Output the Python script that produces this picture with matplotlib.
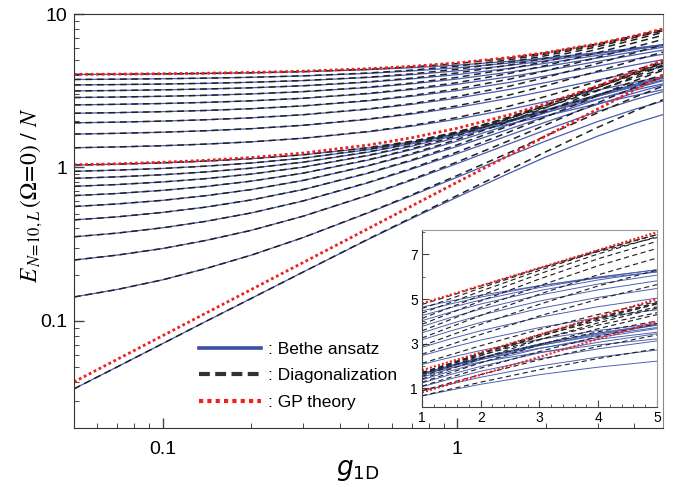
import numpy as np
import matplotlib.pyplot as plt
from matplotlib.lines import Line2D
from matplotlib.ticker import FixedLocator, FixedFormatter, NullFormatter, LogLocator, MultipleLocator

plt.rcParams['font.family'] = ['Liberation Sans', 'DejaVu Sans']
plt.rcParams['mathtext.fontset'] = 'stix'

# coupling strengths where the spectra are sampled
g1d = [0.05, 0.07, 0.1, 0.14, 0.2, 0.3, 0.5, 0.7, 1, 1.5, 2, 3, 4, 5]

# Bethe ansatz energies per particle, L = 0..10
bethe_low = [
    [0.036, 0.050, 0.071, 0.099, 0.140, 0.208, 0.340, 0.464, 0.640, 0.915, 1.170, 1.600, 1.940, 2.210],
    [0.143, 0.160, 0.185, 0.219, 0.268, 0.349, 0.506, 0.654, 0.863, 1.188, 1.487, 1.991, 2.390, 2.709],
    [0.249, 0.268, 0.296, 0.334, 0.389, 0.481, 0.658, 0.824, 1.059, 1.423, 1.756, 2.317, 2.762, 3.119],
    [0.353, 0.373, 0.404, 0.445, 0.505, 0.604, 0.795, 0.974, 1.228, 1.620, 1.976, 2.578, 3.057, 3.440],
    [0.455, 0.476, 0.509, 0.551, 0.614, 0.717, 0.917, 1.105, 1.369, 1.777, 2.148, 2.775, 3.274, 3.673],
    [0.556, 0.578, 0.610, 0.654, 0.717, 0.822, 1.024, 1.215, 1.483, 1.897, 2.273, 2.908, 3.413, 3.818],
    [0.655, 0.676, 0.709, 0.751, 0.814, 0.917, 1.117, 1.305, 1.569, 1.977, 2.348, 2.975, 3.474, 3.873],
    [0.753, 0.773, 0.804, 0.845, 0.905, 1.004, 1.195, 1.374, 1.628, 2.020, 2.376, 2.978, 3.457, 3.840],
    [0.849, 0.868, 0.896, 0.934, 0.989, 1.081, 1.258, 1.424, 1.659, 2.023, 2.356, 2.917, 3.362, 3.719],
    [0.943, 0.960, 0.985, 1.019, 1.068, 1.149, 1.306, 1.454, 1.663, 1.988, 2.287, 2.791, 3.190, 3.509],
    [1.036, 1.050, 1.071, 1.099, 1.140, 1.208, 1.340, 1.464, 1.640, 1.915, 2.170, 2.600, 2.940, 3.210],
]
# Bethe ansatz, L = 11..20
bethe_high = [
    [1.343, 1.360, 1.385, 1.419, 1.468, 1.549, 1.706, 1.854, 2.063, 2.388, 2.687, 3.191, 3.590, 3.909],
    [1.649, 1.668, 1.696, 1.734, 1.789, 1.881, 2.058, 2.224, 2.459, 2.823, 3.156, 3.717, 4.162, 4.519],
    [1.953, 1.973, 2.004, 2.045, 2.105, 2.204, 2.395, 2.574, 2.828, 3.220, 3.576, 4.178, 4.657, 5.040],
    [2.255, 2.276, 2.309, 2.351, 2.414, 2.517, 2.717, 2.905, 3.169, 3.577, 3.948, 4.575, 5.074, 5.473],
    [2.556, 2.578, 2.610, 2.654, 2.717, 2.822, 3.024, 3.215, 3.483, 3.897, 4.273, 4.908, 5.413, 5.818],
    [2.855, 2.876, 2.909, 2.951, 3.014, 3.117, 3.317, 3.505, 3.769, 4.177, 4.548, 5.175, 5.674, 6.073],
    [3.153, 3.173, 3.204, 3.245, 3.305, 3.404, 3.595, 3.774, 4.028, 4.420, 4.776, 5.378, 5.857, 6.240],
    [3.449, 3.468, 3.496, 3.534, 3.589, 3.681, 3.858, 4.024, 4.259, 4.623, 4.956, 5.517, 5.962, 6.319],
    [3.743, 3.760, 3.785, 3.819, 3.868, 3.949, 4.106, 4.254, 4.463, 4.788, 5.087, 5.591, 5.990, 6.309],
    [4.036, 4.050, 4.071, 4.099, 4.140, 4.208, 4.340, 4.464, 4.640, 4.915, 5.170, 5.600, 5.940, 6.210],
]

# exact diagonalization, L = 0..10
diag_low = [
    [0.036, 0.050, 0.071, 0.099, 0.140, 0.208, 0.342, 0.470, 0.656, 0.961, 1.264, 1.824, 2.328, 2.763],
    [0.143, 0.160, 0.185, 0.219, 0.268, 0.349, 0.509, 0.662, 0.885, 1.247, 1.606, 2.270, 2.868, 3.386],
    [0.249, 0.268, 0.296, 0.334, 0.389, 0.481, 0.661, 0.834, 1.085, 1.494, 1.896, 2.641, 3.314, 3.899],
    [0.353, 0.373, 0.404, 0.445, 0.505, 0.605, 0.799, 0.986, 1.259, 1.701, 2.134, 2.939, 3.668, 4.300],
    [0.455, 0.476, 0.509, 0.551, 0.614, 0.718, 0.922, 1.118, 1.403, 1.866, 2.320, 3.164, 3.929, 4.591],
    [0.556, 0.578, 0.610, 0.654, 0.717, 0.823, 1.029, 1.230, 1.520, 1.992, 2.455, 3.315, 4.096, 4.773],
    [0.655, 0.676, 0.709, 0.751, 0.814, 0.918, 1.123, 1.321, 1.608, 2.076, 2.536, 3.392, 4.169, 4.841],
    [0.753, 0.773, 0.804, 0.845, 0.905, 1.005, 1.201, 1.390, 1.669, 2.121, 2.566, 3.395, 4.148, 4.800],
    [0.849, 0.868, 0.896, 0.934, 0.989, 1.082, 1.264, 1.441, 1.700, 2.124, 2.544, 3.325, 4.034, 4.649],
    [0.943, 0.960, 0.985, 1.019, 1.068, 1.150, 1.313, 1.471, 1.705, 2.087, 2.470, 3.182, 3.828, 4.386],
    [1.036, 1.050, 1.071, 1.099, 1.140, 1.209, 1.347, 1.482, 1.681, 2.011, 2.344, 2.964, 3.528, 4.013],
]
# exact diagonalization, L = 11..20
diag_high = [
    [1.343, 1.360, 1.385, 1.419, 1.468, 1.551, 1.715, 1.876, 2.115, 2.507, 2.902, 3.638, 4.308, 4.886],
    [1.649, 1.668, 1.696, 1.734, 1.789, 1.883, 2.068, 2.251, 2.520, 2.964, 3.408, 4.237, 4.994, 5.649],
    [1.953, 1.973, 2.004, 2.045, 2.105, 2.206, 2.407, 2.605, 2.899, 3.381, 3.862, 4.763, 5.588, 6.300],
    [2.255, 2.276, 2.309, 2.351, 2.414, 2.520, 2.731, 2.940, 3.248, 3.756, 4.264, 5.216, 6.089, 6.841],
    [2.556, 2.578, 2.610, 2.654, 2.717, 2.825, 3.039, 3.254, 3.570, 4.092, 4.615, 5.595, 6.496, 7.273],
    [2.855, 2.876, 2.909, 2.951, 3.014, 3.120, 3.334, 3.547, 3.863, 4.386, 4.912, 5.900, 6.809, 7.591],
    [3.153, 3.173, 3.204, 3.245, 3.305, 3.407, 3.613, 3.819, 4.129, 4.641, 5.158, 6.131, 7.028, 7.800],
    [3.449, 3.468, 3.496, 3.534, 3.589, 3.685, 3.877, 4.072, 4.365, 4.854, 5.352, 6.289, 7.154, 7.899],
    [3.743, 3.760, 3.785, 3.819, 3.868, 3.953, 4.127, 4.305, 4.575, 5.027, 5.494, 6.374, 7.188, 7.886],
    [4.036, 4.050, 4.071, 4.099, 4.140, 4.212, 4.362, 4.518, 4.756, 5.161, 5.584, 6.384, 7.128, 7.763],
]

# Gross-Pitaevskii branches for L = 0, N, 2N
gp_L0 = [0.04, 0.056, 0.08, 0.112, 0.16, 0.24, 0.40, 0.56, 0.80, 1.20, 1.60, 2.40, 3.20, 4.00]
gp_L10 = [1.04, 1.056, 1.08, 1.112, 1.16, 1.24, 1.40, 1.56, 1.80, 2.20, 2.60, 3.40, 4.20, 5.00]
gp_L20 = [4.04, 4.056, 4.08, 4.112, 4.16, 4.24, 4.40, 4.56, 4.80, 5.20, 5.60, 6.40, 7.20, 8.00]

BLUE = '#4a5db0'
BLACK = '#222222'
RED = '#ee2020'


def draw_spectra(a, start, scale):
    x = g1d[start:]
    for row in bethe_low + bethe_high:
        a.plot(x, row[start:], color=BLUE, lw=0.9 * scale, solid_capstyle='butt')
    for row in diag_low + diag_high:
        a.plot(x, row[start:], color=BLACK, lw=1.1 * scale, dashes=(4.5, 3.0))
    for row in (gp_L0, gp_L10, gp_L20):
        a.plot(x, row[start:], color=RED, lw=2.0 * scale, dashes=(1.0, 1.0))


fig = plt.figure(figsize=(6.77, 4.87), dpi=100)
ax = fig.add_axes([0.1093, 0.1211, 0.8700, 0.8501])
draw_spectra(ax, 0, 1.0)

ax.set_xscale('log')
ax.set_yscale('log')
ax.set_xlim(0.05, 5)
ax.set_ylim(0.02, 10)

ax.xaxis.set_major_locator(FixedLocator([0.1, 1]))
ax.xaxis.set_major_formatter(FixedFormatter(['0.1', '1']))
ax.xaxis.set_minor_locator(LogLocator(base=10, subs=np.arange(2, 10), numticks=20))
ax.xaxis.set_minor_formatter(NullFormatter())
ax.yaxis.set_major_locator(FixedLocator([0.1, 1, 10]))
ax.yaxis.set_major_formatter(FixedFormatter(['0.1', '1', '10']))
ax.yaxis.set_minor_locator(LogLocator(base=10, subs=np.arange(2, 10), numticks=20))
ax.yaxis.set_minor_formatter(NullFormatter())

ax.tick_params(which='both', direction='in', top=False, right=False, color='#444444')
ax.tick_params(which='major', length=7, width=1.0, labelsize=14)
ax.tick_params(which='minor', length=3.5, width=0.7)
ax.tick_params(axis='x', which='major', pad=9)
ax.tick_params(axis='y', which='major', pad=5)
for side in ('left', 'bottom', 'top'):
    ax.spines[side].set_color('#333333')
ax.spines['right'].set_color('#888888')

ax.set_ylabel(r'$E_{\,N\!=\!10,L}\,(\Omega\!=\!0)\ /\ N$', fontsize=17)
ax.yaxis.set_label_coords(-0.05, 0.563)
ax.set_xlabel(r'$g_{\mathrm{1D}}$', fontsize=19, math_fontfamily='dejavusans')
ax.xaxis.set_label_coords(0.482, -0.072)

handles = [
    Line2D([], [], color='#3b4fa3', lw=2.6),
    Line2D([], [], color='#333333', lw=3.0, dashes=(2.6, 1.3)),
    Line2D([], [], color=RED, lw=3.0, dashes=(1.0, 1.0)),
]
ax.legend(handles, [': Bethe ansatz', ': Diagonalization', ': GP theory'],
          loc='upper left', bbox_to_anchor=(0.213, 0.208), frameon=False,
          handlelength=3.57, handletextpad=0.35, labelspacing=0.64,
          fontsize=12.5, borderpad=0, borderaxespad=0)

# zoomed view of the strong-coupling end on linear axes
ax_in = fig.add_axes([0.6233, 0.1643, 0.3471, 0.3634])
draw_spectra(ax_in, 8, 0.75)
ax_in.set_xlim(1, 5)
ax_in.set_ylim(0.15, 8.1)
ax_in.set_xticks([1, 2, 3, 4, 5])
ax_in.set_yticks([1, 3, 5, 7])
ax_in.xaxis.set_minor_locator(MultipleLocator(0.2))
ax_in.yaxis.set_minor_locator(MultipleLocator(1))
ax_in.tick_params(which='both', direction='in', top=False, right=False, color='#444444')
ax_in.tick_params(which='major', length=5, labelsize=10, pad=3)
ax_in.tick_params(which='minor', length=2.5)
for side in ('left', 'bottom'):
    ax_in.spines[side].set_color('#444444')
for side in ('top', 'right'):
    ax_in.spines[side].set_color('#999999')

fig.savefig('out.png', dpi=100)
